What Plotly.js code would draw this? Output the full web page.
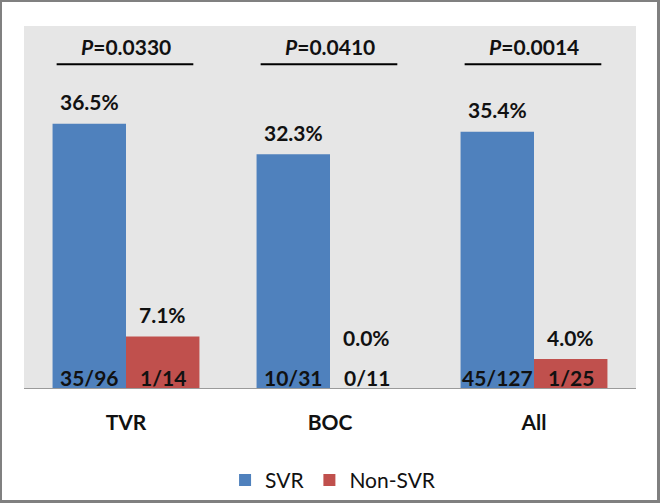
<!DOCTYPE html>
<html>
<head>
<meta charset="utf-8">
<script src="https://cdn.plot.ly/plotly-3.0.1.min.js"></script>
<style>
  body { margin: 0; background: #fff; overflow: hidden; }
  #chart {
    width: 655px; height: 498px;
    border-style: solid; border-color: #808080;
    border-width: 2px 3px 3px 2px;
  }
</style>
</head>
<body>
<div id="chart"></div>
<script>
const groups = ['TVR', 'BOC', 'All'];
const svrPct = [36.5, 32.3, 35.4];
const nonSvrPct = [7.1, 0.0, 4.0];
const svrCounts = ['35/96', '10/31', '45/127'];
const nonSvrCounts = ['1/14', '0/11', '1/25'];
const pValues = ['0.0330', '0.0410', '0.0014'];

const blue = '#4f81bd';
const red = '#c0504d';
const ink = '#111111';
const face = 'Lato, "Liberation Sans", Arial, sans-serif';

// bar width in category units, svr sits left of the tick, non-svr right
const barW = 0.36;

const data = [
    {
        type: 'bar',
        name: 'SVR',
        x: groups,
        y: svrPct,
        width: barW,
        offset: -barW,
        marker: { color: blue, line: { width: 0 } },
    },
    {
        type: 'bar',
        name: 'Non-SVR',
        x: groups,
        y: nonSvrPct,
        width: barW,
        offset: 0,
        marker: { color: red, line: { width: 0 } },
    },
];

const annotations = [];
const shapes = [];
const labelFont = { family: face, size: 21, color: ink, weight: 'bold' };

groups.forEach((g, i) => {
    // percentage above each bar
    annotations.push({
        x: i - barW / 2, y: svrPct[i], xref: 'x', yref: 'y',
        text: svrPct[i].toFixed(1) + '%', showarrow: false,
        yanchor: 'middle', yshift: 22, font: labelFont,
    });
    annotations.push({
        x: i + barW / 2, y: Math.max(nonSvrPct[i], 4.0), xref: 'x', yref: 'y', // empty bar: keep the label clear of the count
        text: nonSvrPct[i].toFixed(1) + '%', showarrow: false,
        yanchor: 'middle', yshift: 22, font: labelFont,
    });
    // counts at the foot of each bar
    annotations.push({
        x: i - barW / 2, y: 0, xref: 'x', yref: 'y',
        text: svrCounts[i], showarrow: false,
        yanchor: 'middle', yshift: 11, font: labelFont,
    });
    annotations.push({
        x: i + barW / 2, y: 0, xref: 'x', yref: 'y',
        text: nonSvrCounts[i], showarrow: false,
        yanchor: 'middle', yshift: 11, font: labelFont,
    });
    // p value with underline
    annotations.push({
        x: i, y: 47.2, xref: 'x', yref: 'y',
        text: '<i>P</i>=' + pValues[i], showarrow: false,
        yanchor: 'middle', font: { family: face, size: 21, color: ink, weight: 'bold' },
    });
    shapes.push({
        type: 'line', xref: 'x', yref: 'y',
        x0: i - 0.34, x1: i + 0.33, y0: 44.7, y1: 44.7,
        line: { color: '#000', width: 2 },
    });
});

const layout = {
    width: 655,
    height: 498,
    margin: { l: 22, r: 21, t: 24, b: 112, autoexpand: false },
    paper_bgcolor: '#ffffff',
    plot_bgcolor: '#e6e6e6',
    showlegend: true,
    hovermode: false,
    barmode: 'group',
    xaxis: {
        type: 'category',
        showgrid: false,
        zeroline: false,
        showline: true,
        linecolor: '#9a9a9a',
        linewidth: 1,
        ticks: '',
        ticklabelstandoff: 16,
        tickfont: { family: face, size: 21, color: ink, weight: 'bold' },
    },
    yaxis: {
        range: [0, 50],
        visible: false,
        showgrid: false,
        zeroline: false,
    },
    legend: {
        orientation: 'h',
        x: 0.505, xanchor: 'center',
        y: -0.255, yanchor: 'middle',
        itemwidth: 30,
        font: { family: face, size: 21, color: ink },
    },
    annotations: annotations,
    shapes: shapes,
};

Plotly.newPlot('chart', data, layout, { displayModeBar: false, staticPlot: true });
</script>
</body>
</html>
